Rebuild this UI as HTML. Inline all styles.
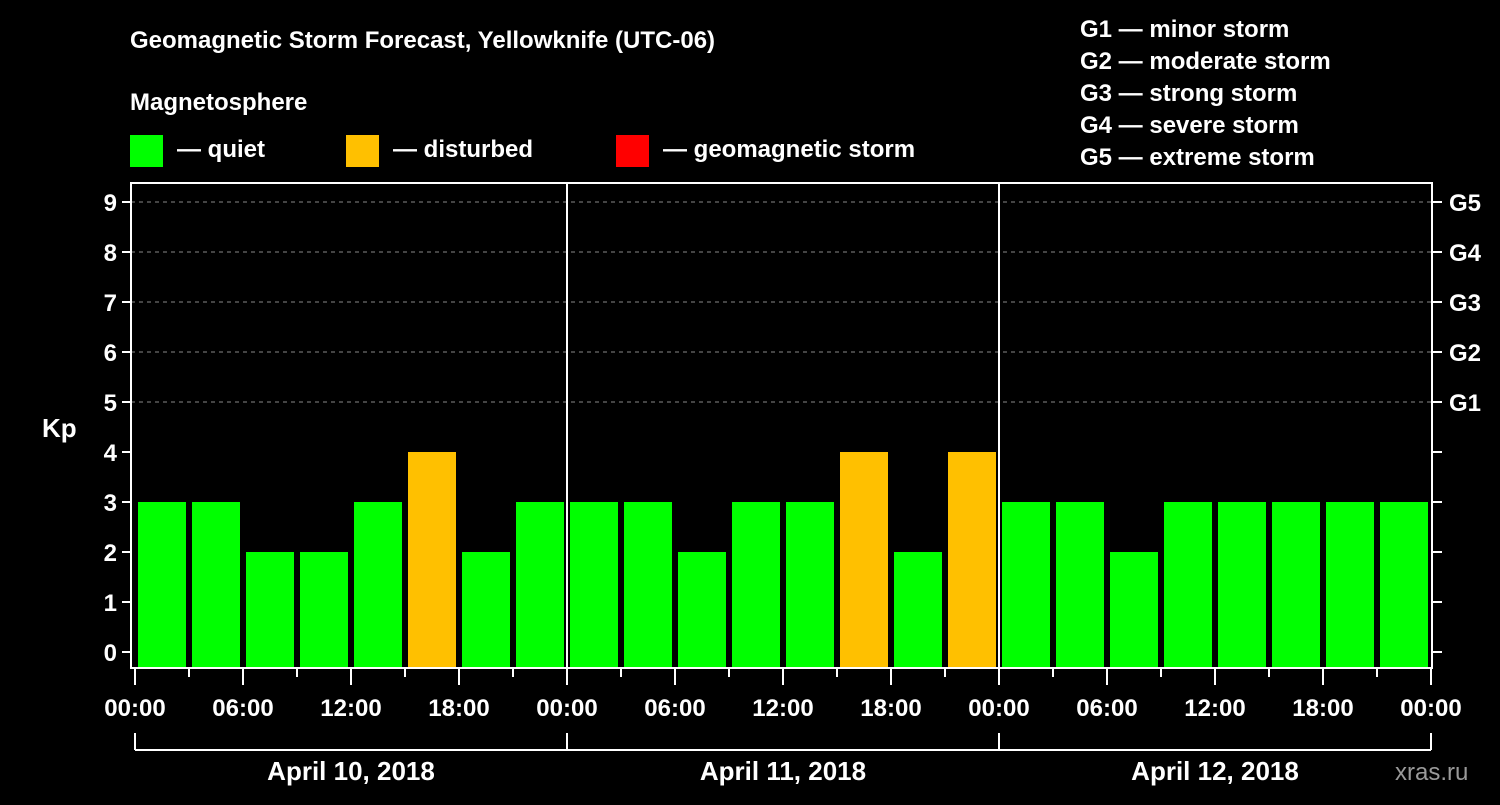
<!DOCTYPE html>
<html><head><meta charset="utf-8"><style>
body{margin:0;background:#000;width:1500px;height:800px;overflow:hidden}
svg text{font-family:"Liberation Sans",Arial,sans-serif;font-weight:bold;fill:#fff}
</style></head><body>
<svg id="chart" width="1500" height="800" xmlns="http://www.w3.org/2000/svg">
<rect width="1500" height="800" fill="#000"/>
<text x="130" y="48" font-size="24">Geomagnetic Storm Forecast, Yellowknife (UTC-06)</text>
<text x="130" y="110" font-size="24">Magnetosphere</text>
<g><rect x="130" y="135" width="33" height="32" fill="#00ff00"/><text x="177" y="157" font-size="24">— quiet</text></g>
<g><rect x="346" y="135" width="33" height="32" fill="#ffc000"/><text x="393" y="157" font-size="24">— disturbed</text></g>
<g><rect x="616" y="135" width="33" height="32" fill="#ff0000"/><text x="663" y="157" font-size="24">— geomagnetic storm</text></g>
<g font-size="24">
<text x="1080" y="37">G1 — minor storm</text>
<text x="1080" y="69">G2 — moderate storm</text>
<text x="1080" y="101">G3 — strong storm</text>
<text x="1080" y="133">G4 — severe storm</text>
<text x="1080" y="165">G5 — extreme storm</text>
</g>
<text x="42" y="437" font-size="26">Kp</text>
<g id="grid"></g><g id="bars"></g><g id="axes"></g>
<text x="1395" y="780" font-size="24" fill="#888" style="fill:#999;font-weight:normal">xras.ru</text>
</svg>
<script>
const kpValues=[3,3,2,2,3,4,2,3, 3,3,2,3,3,4,2,4, 3,3,2,3,3,3,3,3];
const dayLabels=["April 10, 2018","April 11, 2018","April 12, 2018"];
const hourLabels=["00:00","06:00","12:00","18:00"];
const gLabels=["G1","G2","G3","G4","G5"];
const NS="http://www.w3.org/2000/svg";
const X0=135,DAYW=432,SLOT=54,L=131,R=1432,TOP=183,BOT=668;
const xs=i=>X0+i*SLOT;
const ys=v=>652-50*v;
function mk(p,tag,a){const e=document.createElementNS(NS,tag);for(const k in a)e.setAttribute(k,a[k]);p.appendChild(e);return e;}
const grid=document.getElementById('grid'),bars=document.getElementById('bars'),axes=document.getElementById('axes');
for(let v=5;v<=9;v++){const l=mk(grid,'line',{x1:L,x2:R,y1:ys(v),y2:ys(v),stroke:'#888','stroke-width':1,'stroke-dasharray':'4,4'});

}
kpValues.forEach((v,i)=>{const c=v>=5?'#ff0000':v>=4?'#ffc000':'#00ff00';
const r=mk(bars,'rect',{x:xs(i)+3,y:ys(v),width:SLOT-6,height:BOT-ys(v),fill:c});

});
mk(axes,'rect',{x:L,y:TOP,width:R-L,height:BOT-TOP,fill:'none',stroke:'#fff','stroke-width':2});
for(let d=1;d<dayLabels.length;d++){mk(axes,'line',{x1:X0+d*DAYW,x2:X0+d*DAYW,y1:TOP,y2:BOT,stroke:'#fff','stroke-width':2});}
for(let v=0;v<=9;v++){
mk(axes,'line',{x1:L-9,x2:L,y1:ys(v),y2:ys(v),stroke:'#fff','stroke-width':2});
mk(axes,'line',{x1:R,x2:R+10,y1:ys(v),y2:ys(v),stroke:'#fff','stroke-width':2});
const t=mk(axes,'text',{x:L-14,y:ys(v)+9,'font-size':24,'text-anchor':'end'});t.textContent=v;

}
gLabels.forEach((g,i)=>{const t=mk(axes,'text',{x:1449,y:ys(5+i)+9,'font-size':24});t.textContent=g;

});
const nSlots=kpValues.length;
for(let i=0;i<=nSlots;i++){const big=i%2==0;
mk(axes,'line',{x1:xs(i),x2:xs(i),y1:BOT,y2:BOT+(big?17:9),stroke:'#fff','stroke-width':2});
if(big){const t=mk(axes,'text',{x:xs(i),y:716,'font-size':24,'text-anchor':'middle'});t.textContent=hourLabels[(i/2)%4];

}}
dayLabels.forEach((d,i)=>{const a=X0+i*DAYW,b=a+DAYW;
mk(axes,'line',{x1:a,x2:b,y1:750,y2:750,stroke:'#fff','stroke-width':2});
mk(axes,'line',{x1:a,x2:a,y1:733,y2:750,stroke:'#fff','stroke-width':2});
mk(axes,'line',{x1:b,x2:b,y1:733,y2:750,stroke:'#fff','stroke-width':2});
const t=mk(axes,'text',{x:(a+b)/2,y:780,'font-size':26,'text-anchor':'middle'});t.textContent=d;

});
</script>
</body></html>
